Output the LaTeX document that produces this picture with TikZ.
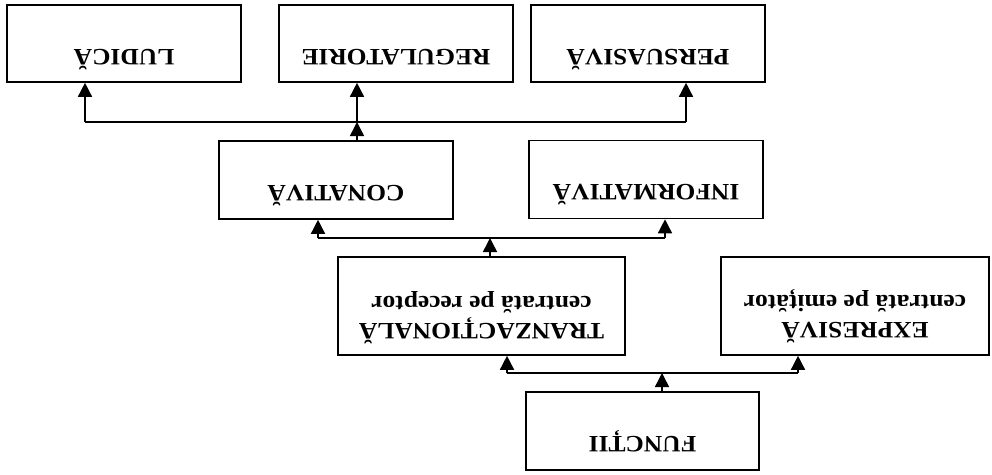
\documentclass[tikz,border=0pt]{standalone}
\usepackage{fontspec}
\setmainfont{Liberation Serif}
\usetikzlibrary{arrows.meta}
\begin{document}
\begin{tikzpicture}[x=1pt,y=-1pt,
  box/.style={draw,line width=1.6pt,inner sep=0pt,minimum height=#1},
  box/.default=77pt,
  lbl/.style={rotate=180,yscale=0.92,anchor=base,inner sep=0pt,
    font=\fontsize{25.5}{30}\selectfont\bfseries},
  link/.style={line width=1.5pt},
  arr/.style={link,-{Triangle[length=14pt,width=14pt]}}]
\useasboundingbox (0,0) rectangle (992,474);

% boxes
\node[box,minimum width=234pt] (ludica) at (124,43.5) {};
\node[box,minimum width=234pt] (reg) at (396,43.5) {};
\node[box,minimum width=234pt] (pers) at (648,43.5) {};
\node[box=78pt,minimum width=234pt] (conativa) at (336,180) {};
\node[box=78pt,minimum width=234pt] (informativa) at (646,179.5) {};
\node[box=98pt,minimum width=287pt] (tranz) at (481.5,306) {};
\node[box=98pt,minimum width=268pt] (expr) at (855,306) {};
\node[box=78pt,minimum width=233pt] (functii) at (642.5,431) {};

% labels, turned half a turn
\node[lbl] (ludica-t) at (124,49) {LUDICĂ};
\node[lbl] (reg-t) at (396,49) {REGULATORIE};
\node[lbl] (pers-t) at (648,49) {PERSUASIVĂ};
\node[lbl] (conativa-t) at (336,185) {CONATIVĂ};
\node[lbl] (informativa-t) at (646,184.5) {INFORMATIVĂ};
\node[lbl] (tranz-t) at (481.5,323) {TRANZACȚIONALĂ};
\node[lbl] (tranz-s) at (481.5,296.5) {centrată pe receptor};
\node[lbl] (expr-t) at (855,322) {EXPRESIVĂ};
\node[lbl] (expr-s) at (855,295.5) {centrată pe emițător};
\node[lbl] (functii-t) at (642.5,436) {FUNCȚII};

% branch points and ends of the connectors
\coordinate (j1) at (357,122);
\coordinate (e1l) at (85,122);
\coordinate (e1r) at (686,122);
\coordinate (j2) at (490,238);
\coordinate (e2l) at (318,238);
\coordinate (e2r) at (665,238);
\coordinate (j3) at (662,373);
\coordinate (e3l) at (507,373);
\coordinate (e3r) at (798,373);

% upper level
\draw[arr] (conativa.north -| j1) -- (j1);
\draw[arr] (j1) -- (reg.south -| j1);
\draw[link] (e1l) -- (e1r);
\draw[arr] (e1l) -- (ludica.south -| e1l);
\draw[arr] (e1r) -- (pers.south -| e1r);

% middle level
\draw[arr] (tranz.north -| j2) -- (j2);
\draw[link] (e2l) -- (e2r);
\draw[arr] (e2l) -- (conativa.south -| e2l);
\draw[arr] (e2r) -- (informativa.south -| e2r);

% lower level
\draw[arr] (functii.north -| j3) -- (j3);
\draw[link] (e3l) -- (e3r);
\draw[arr] (e3l) -- (tranz.south -| e3l);
\draw[arr] (e3r) -- (expr.south -| e3r);
\end{tikzpicture}
\end{document}
